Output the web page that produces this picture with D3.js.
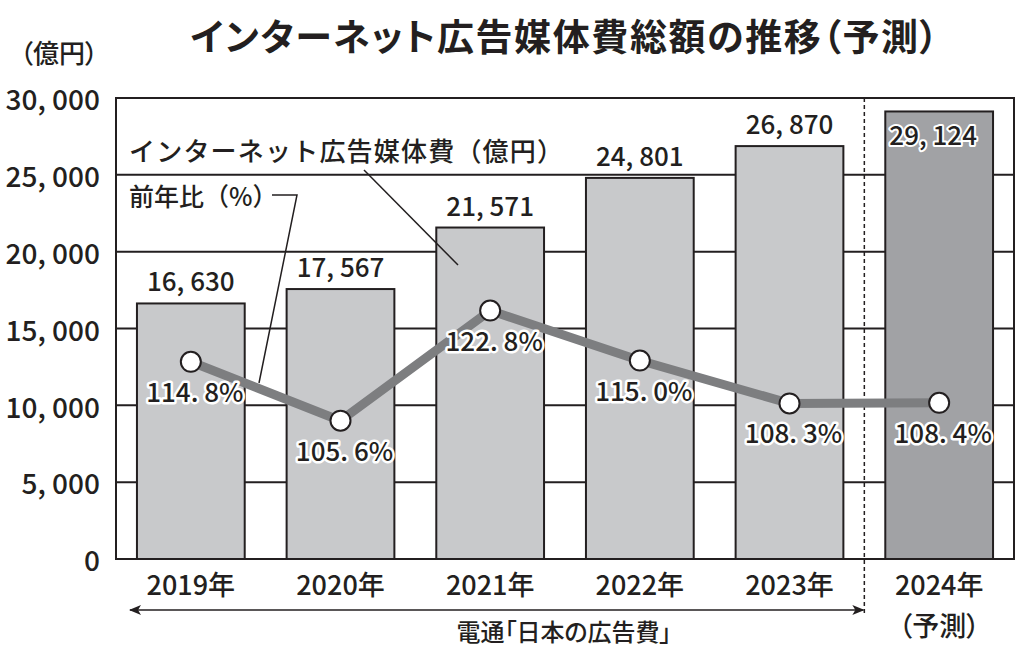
<!DOCTYPE html>
<html><head><meta charset="utf-8">
<script src="https://cdn.jsdelivr.net/npm/d3@7"></script>
<style>
html,body{margin:0;padding:0;background:#fff;}
text{font-family:"Noto Sans CJK JP","Noto Sans",sans-serif;fill:#231f20;font-weight:500;font-feature-settings:"palt";}
text.full{font-feature-settings:normal;}
</style></head>
<body>
<svg id="c" width="1024" height="658"></svg>
<script>
const years = ["2019","2020","2021","2022","2023","2024"];
const adSpend = [16630, 17567, 21571, 24801, 26870, 29124];
const growth = [114.8, 105.6, 122.8, 115.0, 108.3, 108.4];
const forecast = [false, false, false, false, false, true];
const yTicks = [0, 5000, 10000, 15000, 20000, 25000, 30000];
const title = "インターネット広告媒体費総額の推移（予測）";
const unitLabel = "（億円）";
const barLegend = "インターネット広告媒体費（億円）";
const lineLegend = "前年比（%）";
const source = "電通「日本の広告費」";
const forecastNote = "（予測）";

const svg = d3.select("#c");
const L = 116, R = 1014, T = 98, B = 559;
const x = d3.scaleBand().domain(years).range([L, R]).paddingInner(0.28).paddingOuter(0.14);
const y = d3.scaleLinear().domain([0, 30000]).range([B, T]);
const y2 = d3.scaleLinear().domain([84, 156]).range([B, T]);
const ink = "#231f20";
const fmtNum = v => d3.format(",")(v).replace(",", ", ");
const fmtPct = v => d3.format(".1f")(v).replace(".", ". ") + "%";

// title
svg.append("text").attr("x", 565).attr("y", 51).attr("text-anchor", "middle")
  .style("font-size", "37px").style("font-weight", "bold").style("letter-spacing", "1.6px").text(title);
svg.append("text").attr("x", 59).attr("y", 63).attr("text-anchor", "middle")
  .style("font-size", "26px").text(unitLabel);

// plot background
svg.append("rect").attr("x", L).attr("y", T).attr("width", R - L).attr("height", B - T).attr("fill", "#fff");

// gridlines
svg.append("g").selectAll("line").data(yTicks.slice(1, -1)).join("line")
  .attr("x1", L).attr("x2", R).attr("y1", d => y(d)).attr("y2", d => y(d))
  .attr("stroke", ink).attr("stroke-width", 2);

// y axis labels
const yAxis = d3.axisLeft(y).tickValues(yTicks).tickFormat(fmtNum).tickSize(0).tickPadding(16);
const gy = svg.append("g").attr("transform", `translate(${L},0)`).call(yAxis);
gy.select(".domain").remove();
gy.selectAll("text").style("font-size", "28px").attr("fill", ink).attr("dy", "0.42em")
  .style("font-family", "'Noto Sans CJK JP', sans-serif").style("font-weight", "500");

// bars
svg.append("g").selectAll("rect").data(years).join("rect")
  .attr("x", d => x(d)).attr("width", x.bandwidth())
  .attr("y", (d, i) => y(adSpend[i])).attr("height", (d, i) => B - y(adSpend[i]))
  .attr("fill", (d, i) => forecast[i] ? "#a1a2a5" : "#c8c9cb")
  .attr("stroke", ink).attr("stroke-width", 2);

// bar value labels
svg.append("g").selectAll("text").data(years).join("text")
  .attr("x", (d, i) => x(d) + x.bandwidth() / 2 - (forecast[i] ? 6 : 0))
  .attr("y", (d, i) => forecast[i] ? y(adSpend[i]) + 34 : y(adSpend[i]) - 12)
  .attr("text-anchor", "middle").style("font-size", "26px")
  .attr("stroke", (d, i) => forecast[i] ? "#fff" : "none").attr("stroke-width", 4)
  .attr("paint-order", "stroke").attr("stroke-linejoin", "round")
  .text((d, i) => fmtNum(adSpend[i]));

// dashed separator
const sepX = x(years[5]) - x.step() * x.paddingInner() / 2;
svg.append("line").attr("x1", sepX).attr("x2", sepX).attr("y1", T).attr("y2", 616)
  .attr("stroke", ink).attr("stroke-width", 1.5).attr("stroke-dasharray", "4,3");

// legend labels + leaders
svg.append("text").attr("class", "full").attr("x", 129).attr("y", 161)
  .style("font-size", "26px").style("letter-spacing", "1.2px").text(barLegend);
svg.append("line").attr("x1", 364).attr("y1", 170).attr("x2", 458).attr("y2", 265)
  .attr("stroke", ink).attr("stroke-width", 1.5);
svg.append("text").attr("class", "full").attr("x", 129).attr("y", 206).style("font-size", "25px").text(lineLegend);
svg.append("polyline").attr("points", "272,195 297,195 259,383")
  .attr("fill", "none").attr("stroke", ink).attr("stroke-width", 1.5);

// line
const cx = d => x(d) + x.bandwidth() / 2;
const line = d3.line().x((d, i) => cx(years[i])).y(d => y2(d));
svg.append("path").datum(growth).attr("d", line)
  .attr("fill", "none").attr("stroke", "#7d7e80").attr("stroke-width", 9).attr("stroke-linejoin", "round");
svg.append("g").selectAll("circle").data(growth).join("circle")
  .attr("cx", (d, i) => cx(years[i])).attr("cy", d => y2(d)).attr("r", 10)
  .attr("fill", "#fff").attr("stroke", ink).attr("stroke-width", 2);

// percent labels
svg.append("g").selectAll("text").data(growth).join("text")
  .attr("x", (d, i) => cx(years[i]) + 4).attr("y", d => y2(d) + 40)
  .attr("text-anchor", "middle").style("font-size", "26px")
  .attr("stroke", "#fff").attr("stroke-width", 5).attr("paint-order", "stroke").attr("stroke-linejoin", "round")
  .text(d => fmtPct(d));

// frame
svg.append("rect").attr("x", L).attr("y", T).attr("width", R - L).attr("height", B - T)
  .attr("fill", "none").attr("stroke", ink).attr("stroke-width", 2);

// x labels
svg.append("g").selectAll("text").data(years).join("text")
  .attr("x", d => cx(d)).attr("y", 595).attr("text-anchor", "middle")
  .style("font-size", "27px").text(d => d + "年");
svg.append("text").attr("x", cx(years[5])).attr("y", 636).attr("text-anchor", "middle")
  .style("font-size", "27px").text(forecastNote);

// source arrow
const defs = svg.append("defs");
defs.append("marker").attr("id", "ah").attr("viewBox", "0 0 12 10").attr("refX", 11).attr("refY", 5)
  .attr("markerWidth", 12).attr("markerHeight", 10).attr("markerUnits", "userSpaceOnUse").attr("orient", "auto-start-reverse")
  .append("path").attr("d", "M0,0 L12,5 L0,10 L3,5 z").attr("fill", ink);
svg.append("line").attr("x1", 130).attr("x2", sepX - 1).attr("y1", 610).attr("y2", 610)
  .attr("stroke", ink).attr("stroke-width", 1.5)
  .attr("marker-start", "url(#ah)").attr("marker-end", "url(#ah)");
svg.append("text").attr("x", 564).attr("y", 641).attr("text-anchor", "middle")
  .style("font-size", "24px").text(source);
</script>
</body></html>
